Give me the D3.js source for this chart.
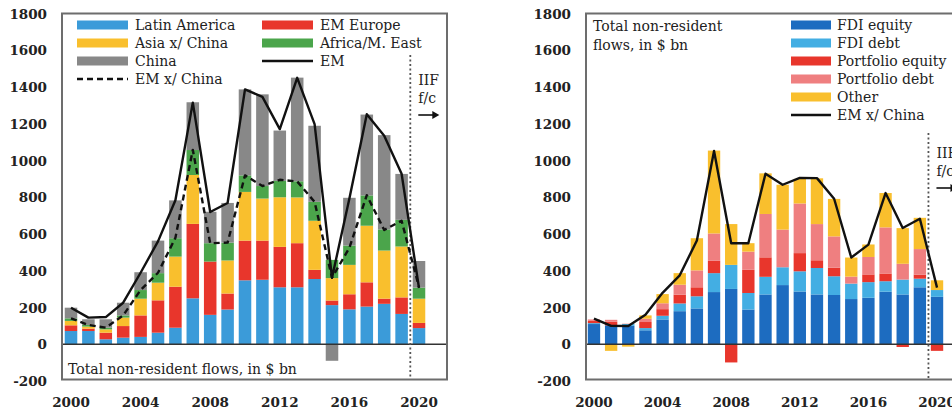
<!DOCTYPE html>
<html><head><meta charset="utf-8">
<script src="https://cdn.jsdelivr.net/npm/d3@7"></script>
<style>
html,body{margin:0;padding:0;background:#fff;}
svg{display:block;}
text{font-family:"DejaVu Serif",serif;fill:#222;}
</style></head>
<body>
<svg id="c" width="952" height="411"></svg>
<script>
// ---------- data ----------
const years = [2000,2001,2002,2003,2004,2005,2006,2007,2008,2009,2010,2011,2012,2013,2014,2015,2016,2017,2018,2019,2020];
const yTicks = [-200,0,200,400,600,800,1000,1200,1400,1600,1800];
const xTickYears = [2000,2004,2008,2012,2016,2020];

// left panel: regions
const regionNames = ["Latin America","EM Europe","Asia x/ China","Africa/M. East","China"];
const latinAmerica = [72,72,27,36,40,63,90,250,160,189,348,351,310,310,355,213,190,205,220,165,88];
const emEurope     = [31,13,36,63,117,176,223,405,290,87,216,213,220,240,50,25,82,132,28,90,28];
const asiaXChina   = [24,11,18,46,91,96,164,266,0,180,265,229,270,249,267,122,160,308,262,277,132];
const africaME     = [14,9,9,12,47,52,100,136,100,97,90,68,89,88,103,99,105,165,115,145,60];
const china        = [58,31,46,69,97,177,206,260,171,216,468,499,274,564,414,-90,260,440,513,250,145];
const emLine       = [199,145,148,226,389,560,784,1315,720,769,1387,1346,1171,1450,1198,362,793,1252,1135,928,306];
const emXChinaLine = [141,105,90,157,295,389,579,1058,550,553,919,861,895,886,775,362,525,811,622,672,310];

// right panel: flow types
const flowNames = ["FDI equity","FDI debt","Portfolio equity","Portfolio debt","Other"];
const fdiEquity   = [110,103,100,76,135,180,195,284,301,189,271,322,287,271,268,246,253,286,271,310,258];
const fdiDebt     = [5,0,10,12,20,42,66,103,131,90,96,97,110,144,102,84,85,57,81,47,37];
const portEquity  = [12,20,0,33,36,48,49,67,-99,126,106,0,99,42,47,0,42,42,-15,22,-36];
const portDebt    = [8,10,2,18,32,54,92,149,0,99,236,205,270,197,170,38,95,251,86,139,0];
const otherFlows  = [0,-36,-13,18,50,63,175,451,222,46,221,244,134,249,204,104,68,187,194,170,53];
const rightLine   = [140,100,99,160,280,375,565,1052,550,550,928,868,905,904,792,472,542,823,633,683,308];

// ---------- drawing ----------
const svg = d3.select("#c");
const yTop = 13.5, yBot = 381;

function panel(opt){
  const g = svg.append("g");
  const x = d3.scaleBand().domain(years).range(opt.xr).paddingInner(0.28).paddingOuter(0.14);
  const y = d3.scaleLinear().domain([-200,1800]).range([yBot,yTop]);
  const rows = years.map((yr,i)=>{const o={year:yr}; opt.keys.forEach((k,j)=>o[k]=opt.series[j][i]); return o;});
  const stacked = d3.stack().keys(opt.keys).offset(d3.stackOffsetDiverging)(rows);

  // bars
  g.selectAll("g.s").data(stacked).join("g").attr("fill",(d,i)=>opt.colors[i])
    .selectAll("rect").data(d=>d).join("rect")
    .attr("x",d=>x(d.data.year)).attr("width",x.bandwidth())
    .attr("y",d=>y(Math.max(d[0],d[1]))).attr("height",d=>Math.abs(y(d[0])-y(d[1])));

  // zero line
  g.append("line").attr("x1",opt.frame[0]).attr("x2",opt.frame[1]).attr("y1",y(0)).attr("y2",y(0))
    .attr("stroke","#333").attr("stroke-width",1.5);

  // frame
  g.append("rect").attr("x",opt.frame[0]).attr("y",y(1800)).attr("width",opt.frame[1]-opt.frame[0]).attr("height",y(-200)-y(1800)-1.5)
    .attr("fill","none").attr("stroke","#6d6d6d").attr("stroke-width",2);

  // forecast divider
  const fx = (x(2019)+x(2020)+x.bandwidth())/2;
  g.append("line").attr("x1",fx).attr("x2",fx).attr("y1",opt.divTop).attr("y2",y(-200)-2)
    .attr("stroke","#555").attr("stroke-width",1.8).attr("stroke-dasharray","2,2.5");
  g.append("text").attr("x",fx+8).attr("y",opt.fcY).attr("font-size",14).text("IIF");
  g.append("text").attr("x",fx+8).attr("y",opt.fcY+18).attr("font-size",14).text("f/c");
  g.append("line").attr("x1",fx+8).attr("x2",fx+24).attr("y1",opt.fcY+30).attr("y2",opt.fcY+30)
    .attr("stroke","#111").attr("stroke-width",1.6);
  g.append("path").attr("d",`M${fx+22},${opt.fcY+26} L${fx+29},${opt.fcY+30} L${fx+22},${opt.fcY+34} Z`).attr("fill","#111");

  // lines
  const lineGen = d3.line().x((d,i)=>x(years[i])+x.bandwidth()/2).y(d=>y(d));
  opt.lines.forEach(L=>{
    g.append("path").datum(L.values).attr("d",lineGen).attr("fill","none")
      .attr("stroke","#111").attr("stroke-width",2.4).attr("stroke-linejoin","round")
      .attr("stroke-dasharray",L.dash||null);
  });

  // y axis labels
  g.selectAll("text.yt").data(yTicks).join("text").attr("class","yt")
    .attr("x",opt.yLabX).attr("y",d=>y(d)+5).attr("text-anchor","end").attr("font-size",13.5).attr("font-weight","bold").attr("fill","#3a3a3a")
    .text(d=>d);
  // x axis labels
  g.selectAll("text.xt").data(xTickYears).join("text").attr("class","xt")
    .attr("x",d=>x(d)+x.bandwidth()/2).attr("y",407).attr("text-anchor","middle").attr("font-size",13.5).attr("font-weight","bold").attr("fill","#3a3a3a")
    .text(d=>d);
  return {g,x,y};
}

// left
const L = panel({
  xr:[62.3,427.7], frame:[62,447], yLabX:47, divTop:55, fcY:85,
  keys:regionNames, series:[latinAmerica,emEurope,asiaXChina,africaME,china],
  colors:["#3b9bd9","#e8362c","#f9bf2d","#4ba54b","#888888"],
  lines:[{values:emLine},{values:emXChinaLine,dash:"6,4"}]
});
// left legend
const legL = [
  {t:"Latin America",c:"#3b9bd9",x:77,y:25},{t:"EM Europe",c:"#e8362c",x:262,y:25},
  {t:"Asia x/ China",c:"#f9bf2d",x:77,y:43},{t:"Africa/M. East",c:"#4ba54b",x:262,y:43},
  {t:"China",c:"#888888",x:77,y:61},{t:"EM",c:"#111",x:262,y:61,line:true},
  {t:"EM x/ China",c:"#111",x:77,y:79,line:true,dash:"6,4"}
];
legL.forEach(d=>{
  if(d.line){
    L.g.append("line").attr("x1",d.x).attr("x2",d.x+51).attr("y1",d.y).attr("y2",d.y).attr("stroke",d.c).attr("stroke-width",2.4).attr("stroke-dasharray",d.dash||null);
  } else {
    L.g.append("rect").attr("x",d.x).attr("y",d.y-4.5).attr("width",51).attr("height",9).attr("fill",d.c);
  }
  L.g.append("text").attr("x",d.x+58).attr("y",d.y+5).attr("font-size",14).text(d.t);
});
L.g.append("text").attr("x",68).attr("y",374).attr("font-size",14).text("Total non-resident flows, in $ bn");

// right
const R = panel({
  xr:[585.4,945.6], frame:[586,962], yLabX:571, divTop:133, fcY:158,
  keys:flowNames, series:[fdiEquity,fdiDebt,portEquity,portDebt,otherFlows],
  colors:["#1d6cc0","#43aee3","#e8362c","#ef7f80","#f9bf2d"],
  lines:[{values:rightLine}]
});
const legR = flowNames.map((t,i)=>({t,c:["#1d6cc0","#43aee3","#e8362c","#ef7f80","#f9bf2d"][i],y:25+i*18}));
legR.push({t:"EM x/ China",c:"#111",y:115,line:true});
legR.forEach(d=>{
  if(d.line){
    R.g.append("line").attr("x1",791).attr("x2",831).attr("y1",d.y).attr("y2",d.y).attr("stroke",d.c).attr("stroke-width",2.4);
  } else {
    R.g.append("rect").attr("x",791).attr("y",d.y-4.5).attr("width",40).attr("height",9).attr("fill",d.c);
  }
  R.g.append("text").attr("x",837).attr("y",d.y+5).attr("font-size",14).text(d.t);
});
R.g.append("text").attr("x",593).attr("y",31).attr("font-size",14).text("Total non-resident");
R.g.append("text").attr("x",593).attr("y",50).attr("font-size",14).text("flows, in $ bn");
</script>
</body></html>
